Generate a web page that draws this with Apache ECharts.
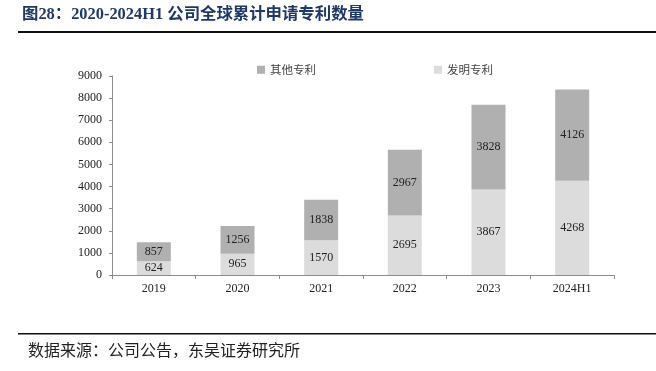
<!DOCTYPE html>
<html><head><meta charset="utf-8">
<script src="https://cdn.jsdelivr.net/npm/echarts@6/dist/echarts.min.js"></script>
<style>html,body{margin:0;padding:0;background:#fff}#c{width:656px;height:371px}</style>
</head><body><div id="c"></div>
<script>
const categories = ['2019','2020','2021','2022','2023','2024H1'];
const invention = [624, 965, 1570, 2695, 3867, 4268];
const other = [857, 1256, 1838, 2967, 3828, 4126];
const yTicks = [0,1000,2000,3000,4000,5000,6000,7000,8000,9000];

const chart = echarts.init(document.getElementById('c'));
const serif = '"Liberation Serif","Times New Roman",serif';
chart.setOption({
  animation: false,
  backgroundColor: '#fff',
  grid: {left: 112, right: 42, top: 76, bottom: 96},
  legend: {
    top: 59, left: 252, itemGap: 118, itemWidth: 8, itemHeight: 8, icon: 'rect',
    textStyle: {fontFamily: '"Noto Sans CJK SC",sans-serif', fontSize: 11.5, color: '#444'},
    data: ['其他专利','发明专利']
  },
  xAxis: {
    type: 'category', data: categories,
    axisLine: {lineStyle: {color: '#8c8c8c'}},
    axisTick: {show: true, alignWithLabel: false, length: 4, lineStyle: {color: '#8c8c8c'}},
    axisLabel: {fontFamily: serif, fontSize: 12, color: '#222', margin: 8}
  },
  yAxis: {
    type: 'value', min: yTicks[0], max: yTicks[yTicks.length-1], interval: 1000,
    splitLine: {show: false},
    axisLine: {show: true, lineStyle: {color: '#8c8c8c'}},
    axisTick: {show: true, length: 3, lineStyle: {color: '#8c8c8c'}},
    axisLabel: {fontFamily: serif, fontSize: 12, color: '#222', margin: 10, formatter: v => String(v)}
  },
  series: [
    {name: '发明专利', type: 'bar', stack: 's', data: invention, barWidth: 34,
     itemStyle: {color: '#dcdcdc'},
     label: {show: true, position: 'inside', fontFamily: serif, fontSize: 12, color: '#222'}},
    {name: '其他专利', type: 'bar', stack: 's', data: other, barWidth: 34,
     itemStyle: {color: '#b0b0b0'},
     label: {show: true, position: 'inside', fontFamily: serif, fontSize: 12, color: '#222'}}
  ],
  graphic: [
    {type: 'text', left: 22, top: 7, style: {text: '图28：2020-2024H1 公司全球累计申请专利数量', font: 'bold 16.4px "Liberation Serif","Noto Sans CJK SC",serif', fill: '#1f3864'}},
    {type: 'rect', shape: {x: 18, y: 31, width: 638, height: 2}, style: {fill: '#111'}},
    {type: 'rect', shape: {x: 18, y: 333, width: 638, height: 1.5}, style: {fill: '#111'}},
    {type: 'text', left: 28, top: 342, style: {text: '数据来源：公司公告，东吴证券研究所', font: '16px "Noto Sans CJK SC",serif', fill: '#222'}}
  ]
});
</script></body></html>
